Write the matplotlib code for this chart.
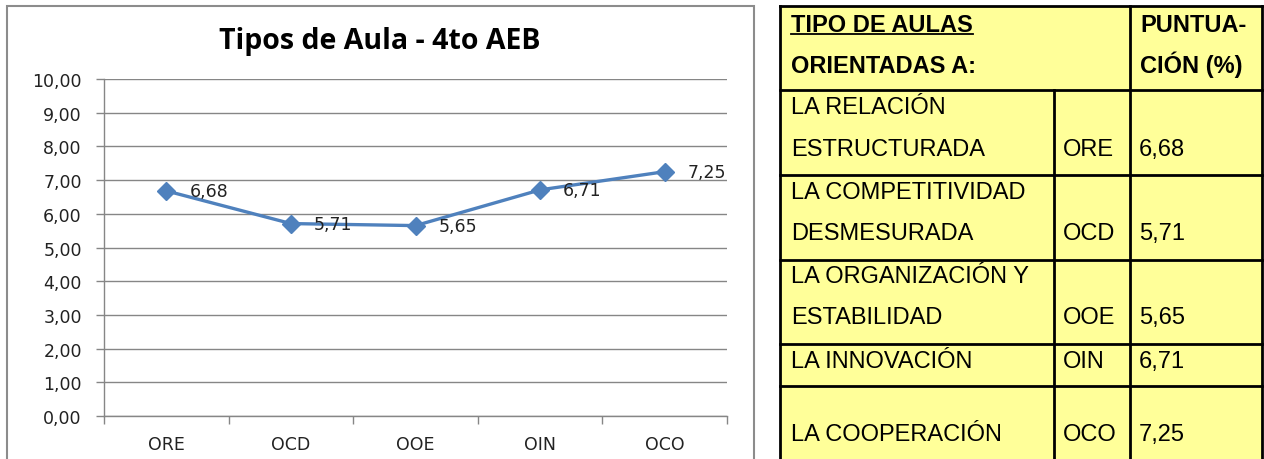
import matplotlib
matplotlib.use("Agg")
import matplotlib.pyplot as plt
from matplotlib.patches import Rectangle
from matplotlib.lines import Line2D
from matplotlib.ticker import FuncFormatter, FixedLocator

# ---------------- data ----------------
categories = ["ORE", "OCD", "OOE", "OIN", "OCO"]
values = [6.68, 5.71, 5.65, 6.71, 7.25]
descriptions = [
    ["LA RELACIÓN", "ESTRUCTURADA"],
    ["LA COMPETITIVIDAD", "DESMESURADA"],
    ["LA ORGANIZACIÓN Y", "ESTABILIDAD"],
    ["LA INNOVACIÓN"],
    ["LA COOPERACIÓN"],
]
title = "Tipos de Aula - 4to AEB"
header_left = ["TIPO DE AULAS", "ORIENTADAS A:"]
header_right = ["PUNTUA-", "CIÓN (%)"]

W, H = 1264, 460
fig = plt.figure(figsize=(W / 100, H / 100), dpi=100)
fig.patch.set_facecolor("white")


def fx(px):
    return px / W


def fy(py):
    return 1 - py / H


def fmt(v):
    return f"{v:.2f}".replace(".", ",")


# ---------------- chart ----------------
fig.patches.append(Rectangle((fx(7), fy(475)), fx(754) - fx(7), fy(7) - fy(475),
                             transform=fig.transFigure, fill=False,
                             edgecolor="#8c8c8c", linewidth=1.5))

fig.text(fx(380), fy(42), title, ha="center", va="center",
         fontsize=20.5, fontweight="bold", family="Open Sans", color="black")

ax = fig.add_axes([fx(104), fy(417), fx(727) - fx(104), fy(80) - fy(417)])
grid_c = "#868686"
lab_c = "#222222"
fs = 12.5
x = list(range(len(categories)))
ax.plot(x, values, color="#4F81BD", linewidth=2.4,
        marker="D", markersize=9.5, markerfacecolor="#4F81BD",
        markeredgecolor="#4F81BD", zorder=3, clip_on=False)
for xi, v in zip(x, values):
    ax.annotate(fmt(v), (xi, v), xytext=(23, 0), textcoords="offset pixels",
                ha="left", va="center", fontsize=fs, family="DejaVu Sans",
                color=lab_c)

ax.set_xlim(-0.5, len(categories) - 0.5)
ax.set_ylim(0, 10)
ax.yaxis.set_major_locator(FixedLocator([i for i in range(11)]))
ax.yaxis.set_major_formatter(FuncFormatter(lambda v, p: fmt(v)))
ax.set_xticks(x)
ax.set_xticklabels(categories)
ax.set_xticks([i - 0.5 for i in range(len(categories) + 1)], minor=True)
ax.grid(axis="y", color=grid_c, linewidth=1.0)
ax.set_axisbelow(True)
for s in ["top", "right"]:
    ax.spines[s].set_visible(False)
for s in ["left", "bottom"]:
    ax.spines[s].set_color(grid_c)
    ax.spines[s].set_linewidth(1.0)
ax.tick_params(axis="y", direction="out", length=6, width=1, color=grid_c,
               pad=10, labelsize=fs, labelcolor=lab_c)
ax.tick_params(axis="x", which="major", length=0, pad=14, labelsize=fs,
               labelcolor=lab_c)
ax.tick_params(axis="x", which="minor", direction="out", length=6, width=1,
               color=grid_c)
for lab in ax.get_xticklabels() + ax.get_yticklabels():
    lab.set_family("DejaVu Sans")

# ---------------- table ----------------
fill = "#FFFF99"
x0, x1, x2, x3 = 780, 1054, 1130, 1262
row_edges = [7, 91, 176, 261, 345, 387, 475]
fig.patches.append(Rectangle((fx(x0), fy(row_edges[-1])), fx(x3) - fx(x0),
                             fy(row_edges[0]) - fy(row_edges[-1]),
                             transform=fig.transFigure, facecolor=fill,
                             edgecolor="none", zorder=0))
lw = 2.0
def hline(py, xa, xb):
    fig.lines.append(Line2D([fx(xa), fx(xb)], [fy(py), fy(py)],
                            transform=fig.transFigure, color="black", linewidth=lw))
def vline(px, ya, yb):
    fig.lines.append(Line2D([fx(px), fx(px)], [fy(ya), fy(yb)],
                            transform=fig.transFigure, color="black", linewidth=lw))

for py in row_edges[:-1]:
    hline(py, x0, x3)
vline(x0, row_edges[0], row_edges[-1])
vline(x3, row_edges[0], row_edges[-1])
vline(x2, row_edges[0], row_edges[-1])
vline(x1, row_edges[1], row_edges[-1])

tfam = ["Liberation Sans", "DejaVu Sans"]
tsize = 17
# header
hb = [32, 73]
for i, t in enumerate(header_left):
    txt = fig.text(fx(791), fy(hb[i]), t, ha="left", va="baseline",
                   fontsize=tsize, fontweight="bold", family=tfam)
    if i == 0:
        fig.canvas.draw()
        bb = txt.get_window_extent()
        fig.lines.append(Line2D([bb.x0 / W, bb.x1 / W], [fy(hb[0] + 3)] * 2,
                                transform=fig.transFigure, color="black",
                                linewidth=1.3))
for i, t in enumerate(header_right):
    fig.text(fx(1140), fy(hb[i]), t, ha="left", va="baseline",
             fontsize=tsize, fontweight="bold", family=tfam)

# body rows: baselines per line (layout)
line_base = [[114, 156], [199, 240], [283, 324], [368], [441]]
for desc, cat, v, bases in zip(descriptions, categories, values, line_base):
    for t, b in zip(desc, bases):
        fig.text(fx(791), fy(b), t, ha="left", va="baseline",
                 fontsize=tsize, family=tfam)
    fig.text(fx(1063), fy(bases[-1]), cat, ha="left", va="baseline",
             fontsize=tsize, family=tfam)
    fig.text(fx(1139), fy(bases[-1]), fmt(v), ha="left", va="baseline",
             fontsize=tsize, family=tfam)

fig.savefig("out.png", dpi=100)
